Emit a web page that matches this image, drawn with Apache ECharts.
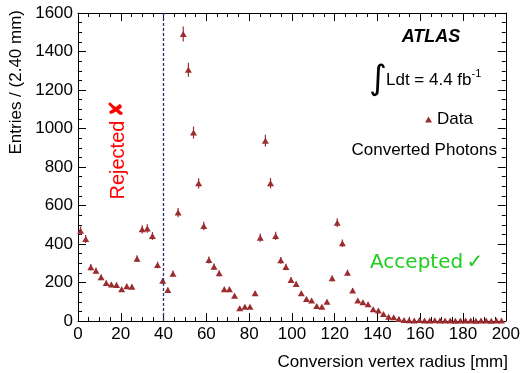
<!DOCTYPE html>
<html><head><meta charset="utf-8">
<script src="https://cdn.jsdelivr.net/npm/echarts@6/dist/echarts.min.js"></script>
<style>html,body{margin:0;padding:0;background:#fff}#c{width:523px;height:373px}</style>
</head><body><div id="c"></div>
<script>
// Conversion vertex radius bin centres [mm] (bin width 2.40 mm)
const radius = [1.2,3.6,6.0,8.4,10.8,13.2,15.6,18.0,20.4,22.8,
  25.2,27.6,30.0,32.4,34.8,37.2,39.6,42.0,44.4,46.8,
  49.2,51.6,54.0,56.4,58.8,61.2,63.6,66.0,68.4,70.8,
  73.2,75.6,78.0,80.4,82.8,85.2,87.6,90.0,92.4,94.8,
  97.2,99.6,102.0,104.4,106.8,109.2,111.6,114.0,116.4,118.8,
  121.2,123.6,126.0,128.4,130.8,133.2,135.6,138.0,140.4,142.8,
  145.2,147.6,150.0,152.4,154.8,157.2,159.6,162.0,164.4,166.8,
  169.2,171.6,174.0,176.4,178.8,181.2,183.6,186.0,188.4,190.8,
  193.2,195.6,198.0];
// Entries per bin
const entries = [469,426,279,261,227,197,189,187,165,180,
  178,324,476,480,442,291,209,161,246,563,
  1491,1305,979,715,494,317,282,248,165,165,
  131,66,74,74,144,433,937,716,442,315,
  280,213,192,144,114,106,78,74,100,222,
  511,404,251,159,106,97,87,61,54,36,
  22,19,10,5,4,3,5,2,3,4,
  2,3,2,1,3,2,2,1,2,3,
  1,2,2];
// Statistical uncertainty per bin
const errors = [22,21,17,16,15,14,14,14,13,13,
  13,18,22,22,21,17,14,13,16,24,
  39,36,31,27,22,18,17,16,13,13,
  11,8,9,9,12,21,31,27,21,18,
  17,15,14,12,11,10,9,9,10,15,
  23,20,16,13,10,10,9,8,7,6,
  5,4,3,2,2,2,2,1,2,2,
  1,2,1,1,2,1,1,1,1,2,
  1,1,1];
const xTicks = [0,20,40,60,80,100,120,140,160,180,200];
const yTicks = [0,200,400,600,800,1000,1200,1400,1600];
const cutRadius = 40;

const markColor = '#9b2d30';
const FONT = '"Liberation Sans", Arial, Helvetica, sans-serif';

const pts = radius.map((r, i) => [r, entries[i]]);
const bars = radius.map((r, i) => [r, entries[i] - errors[i], entries[i] + errors[i]]);

const chart = echarts.init(document.getElementById('c'), null, {renderer: 'canvas'});
const axisCommon = {
  type: 'value',
  axisLine: {show: true, onZero: false, lineStyle: {color: '#000', width: 1}},
  axisTick: {show: true, inside: true, length: 8, lineStyle: {color: '#000', width: 1}},
  minorTick: {show: true, splitNumber: 4, length: 4, lineStyle: {color: '#000', width: 1}},
  splitLine: {show: false}
};
const plain = v => String(v);
chart.setOption({
  animation: false,
  backgroundColor: '#fff',
  grid: {left: 78, right: 16, top: 13, bottom: 52, containLabel: false},
  xAxis: [
    Object.assign({}, axisCommon, {position: 'bottom', min: xTicks[0], max: xTicks[xTicks.length-1], interval: 20,
      axisLabel: {show: true, margin: 5, fontSize: 17, fontFamily: FONT, color: '#000', formatter: plain}}),
    Object.assign({}, axisCommon, {position: 'top', min: xTicks[0], max: xTicks[xTicks.length-1], interval: 20,
      axisLabel: {show: false}})
  ],
  yAxis: [
    Object.assign({}, axisCommon, {position: 'left', min: yTicks[0], max: yTicks[yTicks.length-1], interval: 200,
      axisLabel: {show: true, margin: 5, fontSize: 17, fontFamily: FONT, color: '#000', formatter: plain}}),
    Object.assign({}, axisCommon, {position: 'right', min: yTicks[0], max: yTicks[yTicks.length-1], interval: 200,
      axisLabel: {show: false}})
  ],
  legend: {
    show: true, data: [{name: 'Data', icon: 'triangle'}],
    left: 420, top: 106, itemWidth: 7, itemHeight: 6, itemGap: 5,
    textStyle: {fontSize: 17, fontFamily: FONT, color: '#000'},
    selectedMode: false
  },
  series: [
    {
      type: 'custom', name: 'err', xAxisIndex: 0, yAxisIndex: 0, silent: true, z: 2,
      data: bars,
      renderItem: function (params, api) {
        const p1 = api.coord([api.value(0), api.value(1)]);
        const p2 = api.coord([api.value(0), api.value(2)]);
        return {type: 'line', shape: {x1: p1[0], y1: p1[1], x2: p2[0], y2: p2[1]},
          style: {stroke: markColor, lineWidth: 1.2}};
      }
    },
    {
      type: 'scatter', name: 'Data', xAxisIndex: 0, yAxisIndex: 0, z: 3,
      symbol: 'triangle', symbolSize: [7, 6],
      itemStyle: {color: markColor, opacity: 1},
      data: pts,
      markLine: {
        silent: true, symbol: ['none', 'none'], label: {show: false},
        lineStyle: {color: '#2b2b7d', type: [3, 2], width: 1.3},
        data: [{xAxis: cutRadius}]
      }
    }
  ],
  graphic: [
    {type: 'text', x: 431, y: 37, style: {text: 'ATLAS', font: 'italic bold 18px ' + FONT, fill: '#000', align: 'center', verticalAlign: 'middle'}},
    {type: 'text', x: 378, y: 80, style: {text: '\u222B', font: '34px "DejaVu Sans"', fill: '#000', align: 'center', verticalAlign: 'middle'}},
    {type: 'text', x: 386, y: 80, style: {
      text: '{a|Ldt = 4.4 fb}{s|-1}', align: 'left', verticalAlign: 'middle',
      rich: {a: {fontSize: 17, fontFamily: FONT, fill: '#000'},
             s: {fontSize: 11, fontFamily: FONT, fill: '#000', padding: [0, 0, 12, 0]}}}},
    {type: 'text', x: 497, y: 150, style: {text: 'Converted Photons', font: '17px ' + FONT, fill: '#000', align: 'right', verticalAlign: 'middle'}},
    {type: 'text', x: 118, y: 150, rotation: Math.PI / 2, style: {
      text: '{r|Rejected} {x|\u2718}', align: 'center', verticalAlign: 'middle', fill: '#ff0000',
      rich: {r: {fontSize: 20, fontFamily: FONT, fill: '#ff0000'}, x: {fontSize: 20, fontFamily: '"DejaVu Sans"', fill: '#ff0000'}}}},
    {type: 'text', x: 370, y: 263, style: {
      text: '{r|Accepted} {x|\u2713}', align: 'left', verticalAlign: 'middle', fill: '#1fcc1f',
      rich: {r: {fontSize: 20, fontFamily: '"DejaVu Sans"', fill: '#1fcc1f'}, x: {fontSize: 20, fontFamily: '"DejaVu Sans"', fill: '#1fcc1f'}}}},
    {type: 'text', x: 16, y: 10, rotation: Math.PI / 2, style: {text: 'Entries / (2.40 mm)', font: '17px ' + FONT, fill: '#000', align: 'right', verticalAlign: 'middle'}},
    {type: 'text', x: 508, y: 362, style: {text: 'Conversion vertex radius [mm]', font: '17px ' + FONT, fill: '#000', align: 'right', verticalAlign: 'middle'}}
  ]
});
</script></body></html>
